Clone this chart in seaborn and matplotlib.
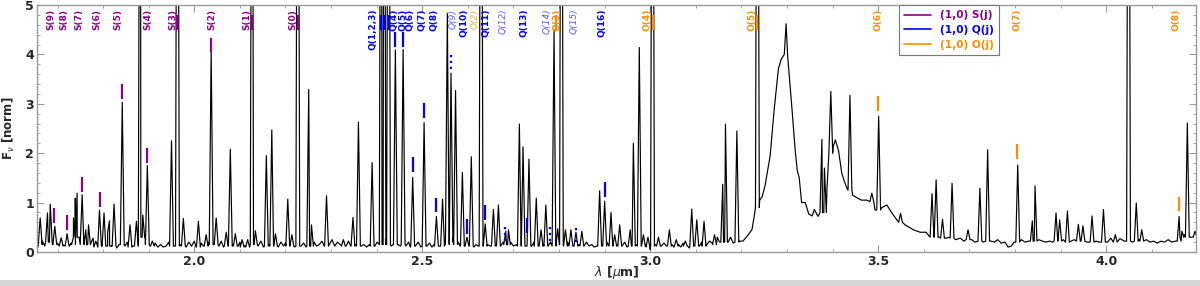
import numpy as np
import pandas as pd
import matplotlib
matplotlib.use('Agg')
import matplotlib.pyplot as plt
from matplotlib.lines import Line2D
from matplotlib.patches import Rectangle
from matplotlib.ticker import MultipleLocator, FormatStrFormatter
import seaborn as sns

# emission lines: centre [um], peak flux, local floor
# (15 = off the top of the plot)
line_wl = [1.662, 1.678, 1.684, 1.694, 1.708, 1.721, 1.735, 1.739, 1.743, 1.754,
           1.762, 1.768, 1.784, 1.792, 1.802, 1.810, 1.814, 1.824, 1.842, 1.859,
           1.873, 1.8815, 1.887, 1.897, 1.908, 1.950, 1.963, 1.976, 2.009, 2.026,
           2.037, 2.048, 2.070, 2.079, 2.090, 2.105, 2.117, 2.127, 2.134, 2.158,
           2.170, 2.178, 2.205, 2.214, 2.227, 2.251, 2.257, 2.290, 2.327, 2.348,
           2.360, 2.390, 2.410, 2.416, 2.426, 2.441, 2.458, 2.479, 2.504, 2.531,
           2.5445, 2.555, 2.563, 2.573, 2.588, 2.598, 2.6075, 2.629, 2.638, 2.656,
           2.667, 2.683, 2.689, 2.713, 2.721, 2.734, 2.750, 2.7605, 2.771, 2.789,
           2.797, 2.805, 2.814, 2.826, 2.837, 2.850, 2.889, 2.900, 2.914, 2.922,
           2.933, 2.956, 2.963, 2.976, 2.985, 2.995, 3.005, 3.018, 3.042, 3.057,
           3.077, 3.091, 3.102, 3.118, 3.141, 3.159, 3.165, 3.190, 3.235, 3.3765,
           3.382, 3.396, 3.438, 3.486, 3.501, 3.549, 3.618, 3.627, 3.641, 3.662,
           3.697, 3.723, 3.740, 3.806, 3.838, 3.844, 3.890, 3.898, 3.915, 3.939,
           3.949, 3.969, 3.994, 4.020, 4.049, 4.066, 4.078, 4.160, 4.166, 4.178,
           4.195]
line_peak = [0.69, 0.79, 0.97, 0.52, 0.29, 0.37, 0.69, 1.09, 1.19, 1.16,
             0.45, 0.55, 0.22, 0.85, 0.79, 0.40, 0.63, 0.97, 3.03, 0.55,
             0.62, 15, 0.75, 1.75, 0.22, 2.25, 15, 0.68, 0.62, 0.35,
             4.09, 0.69, 0.40, 2.08, 0.37, 0.25, 0.25, 15, 0.43, 1.95,
             2.47, 0.37, 1.07, 0.35, 15, 3.29, 0.55, 1.14, 0.25, 0.70,
             2.63, 1.81, 15, 15, 15, 4.09, 4.10, 1.51, 2.62, 0.72,
             1.07, 4.83, 3.62, 3.27, 1.61, 0.30, 1.93, 15, 0.57, 0.86,
             0.95, 0.42, 0.45, 2.59, 2.13, 1.88, 1.09, 0.45, 0.95, 4.50,
             0.47, 15, 0.45, 0.45, 0.40, 0.42, 1.24, 1.03, 0.80, 0.35,
             0.55, 0.45, 2.20, 4.14, 0.35, 0.30, 15, 0.30, 0.45, 0.25,
             0.22, 0.87, 0.65, 0.62, 0.35, 1.37, 2.59, 2.45, 15, 2.28,
             1.70, 3.25, 3.17, 1.19, 2.75, 0.78, 1.18, 1.46, 0.66, 1.39,
             0.45, 1.29, 2.07, 1.76, 0.63, 1.34, 0.79, 0.65, 0.83, 0.56,
             0.53, 0.73, 0.86, 0.35, 15, 0.99, 0.45, 0.72, 0.42, 2.61,
             0.42]
line_base = [0.15, 0.20, 0.20, 0.15, 0.12, 0.12, 0.15, 0.30, 0.30, 0.15,
             0.15, 0.15, 0.10, 0.12, 0.12, 0.12, 0.12, 0.12, 0.15, 0.10,
             0.12, 0.30, 0.30, 0.15, 0.12, 0.12, 0.12, 0.12, 0.10, 0.12,
             0.15, 0.15, 0.12, 0.12, 0.12, 0.10, 0.10, 0.15, 0.15, 0.12,
             0.12, 0.12, 0.12, 0.12, 0.12, 0.12, 0.12, 0.12, 0.12, 0.12,
             0.12, 0.12, 0.15, 0.15, 0.15, 0.15, 0.15, 0.12, 0.12, 0.12,
             0.12, 0.15, 0.20, 0.15, 0.12, 0.12, 0.12, 0.12, 0.12, 0.12,
             0.12, 0.15, 0.15, 0.12, 0.12, 0.12, 0.12, 0.12, 0.12, 0.12,
             0.15, 0.15, 0.12, 0.12, 0.12, 0.12, 0.12, 0.12, 0.12, 0.12,
             0.12, 0.12, 0.12, 0.12, 0.12, 0.10, 0.12, 0.12, 0.12, 0.12,
             0.12, 0.12, 0.12, 0.12, 0.15, 0.20, 0.20, 0.20, 0.90, 0.80,
             0.80, 2.00, 1.25, 1.02, 0.85, 0.60, 0.30, 0.30, 0.28, 0.28,
             0.25, 0.22, 0.22, 0.20, 0.22, 0.22, 0.22, 0.22, 0.20, 0.22,
             0.22, 0.20, 0.20, 0.20, 0.22, 0.22, 0.22, 0.22, 0.30, 0.30,
             0.30]

# continuum / noise floor and the broad 3.3 and 3.4 um bands
cont_wl = [1.657, 1.667, 1.672, 1.688, 1.700, 1.704, 1.714, 1.726, 1.730, 1.748,
           1.774, 1.778, 1.789, 1.797, 1.806, 1.819, 1.830, 1.835, 1.848, 1.853,
           1.865, 1.869, 1.892, 1.903, 1.914, 1.920, 1.926, 1.932, 1.938, 1.944,
           1.957, 1.970, 1.982, 1.988, 1.994, 2.000, 2.004, 2.015, 2.020, 2.031,
           2.043, 2.054, 2.059, 2.064, 2.075, 2.085, 2.096, 2.100, 2.111, 2.122,
           2.140, 2.146, 2.152, 2.164, 2.184, 2.190, 2.196, 2.200, 2.209, 2.220,
           2.234, 2.240, 2.245, 2.263, 2.268, 2.274, 2.280, 2.285, 2.296, 2.302,
           2.308, 2.314, 2.320, 2.333, 2.338, 2.343, 2.353, 2.366, 2.372, 2.378,
           2.384, 2.396, 2.401, 2.421, 2.432, 2.436, 2.447, 2.452, 2.464, 2.470,
           2.474, 2.485, 2.491, 2.497, 2.510, 2.516, 2.521, 2.526, 2.537, 2.549,
           2.568, 2.579, 2.583, 2.593, 2.603, 2.613, 2.618, 2.623, 2.634, 2.643,
           2.649, 2.661, 2.672, 2.677, 2.694, 2.700, 2.706, 2.717, 2.726, 2.740,
           2.745, 2.755, 2.766, 2.776, 2.781, 2.801, 2.809, 2.819, 2.831, 2.843,
           2.855, 2.860, 2.866, 2.872, 2.877, 2.883, 2.894, 2.905, 2.918, 2.927,
           2.938, 2.944, 2.949, 2.969, 2.981, 2.990, 3.000, 3.011, 3.024, 3.030,
           3.036, 3.048, 3.052, 3.062, 3.067, 3.072, 3.082, 3.086, 3.096, 3.108,
           3.113, 3.124, 3.130, 3.136, 3.147, 3.152, 3.171, 3.176, 3.182, 3.196,
           3.203, 3.208, 3.215, 3.223, 3.228, 3.240, 3.2456, 3.252, 3.263, 3.272,
           3.281, 3.287, 3.294, 3.298, 3.3015, 3.310, 3.318, 3.3224, 3.3268, 3.332,
           3.340, 3.3476, 3.355, 3.360, 3.368, 3.3875, 3.401, 3.406, 3.413, 3.420,
           3.425, 3.431, 3.444, 3.453, 3.463, 3.475, 3.493, 3.508, 3.519, 3.530,
           3.541, 3.559, 3.577, 3.592, 3.605, 3.612, 3.633, 3.650, 3.655, 3.670,
           3.680, 3.688, 3.705, 3.712, 3.730, 3.748, 3.755, 3.762, 3.770, 3.778,
           3.785, 3.792, 3.798, 3.814, 3.822, 3.830, 3.852, 3.860, 3.868, 3.876,
           3.882, 3.906, 3.923, 3.930, 3.958, 3.978, 3.985, 4.003, 4.010, 4.030,
           4.040, 4.058, 4.072, 4.088, 4.096, 4.104, 4.112, 4.120, 4.128, 4.136,
           4.144, 4.152, 4.171, 4.186, 4.190, 4.198]
cont_flux = [0.10, 0.22, 0.12, 0.20, 0.18, 0.10, 0.14, 0.12, 0.18, 0.25,
             0.20, 0.28, 0.12, 0.15, 0.10, 0.13, 0.08, 0.15, 0.12, 0.20,
             0.12, 0.15, 0.35, 0.12, 0.18, 0.10, 0.15, 0.10, 0.12, 0.20,
             0.12, 0.15, 0.10, 0.20, 0.12, 0.22, 0.10, 0.18, 0.12, 0.20,
             0.15, 0.12, 0.22, 0.10, 0.13, 0.15, 0.12, 0.20, 0.13, 0.12,
             0.12, 0.22, 0.10, 0.15, 0.10, 0.20, 0.12, 0.18, 0.15, 0.10,
             0.12, 0.18, 0.10, 0.20, 0.12, 0.15, 0.22, 0.12, 0.15, 0.25,
             0.12, 0.20, 0.15, 0.12, 0.22, 0.12, 0.15, 0.12, 0.15, 0.10,
             0.15, 0.12, 0.20, 0.25, 0.12, 0.15, 0.15, 0.12, 0.12, 0.20,
             0.10, 0.12, 0.20, 0.10, 0.12, 0.18, 0.10, 0.15, 0.12, 0.20,
             0.30, 0.20, 0.12, 0.15, 0.12, 0.10, 0.15, 0.12, 0.15, 0.15,
             0.12, 0.15, 0.12, 0.20, 0.20, 0.12, 0.15, 0.15, 0.12, 0.12,
             0.20, 0.12, 0.15, 0.12, 0.20, 0.20, 0.15, 0.20, 0.12, 0.15,
             0.12, 0.20, 0.12, 0.15, 0.10, 0.12, 0.15, 0.20, 0.12, 0.15,
             0.12, 0.20, 0.10, 0.15, 0.12, 0.15, 0.05, 0.15, 0.12, 0.18,
             0.12, 0.15, 0.10, 0.15, 0.10, 0.18, 0.12, 0.08, 0.12, 0.12,
             0.20, 0.15, 0.22, 0.18, 0.30, 0.20, 0.20, 0.30, 0.18, 0.22,
             0.22, 0.27, 0.35, 0.45, 0.72, 1.05, 1.12, 1.35, 1.95, 2.90,
             3.70, 3.90, 4.00, 4.62, 3.95, 3.00, 2.05, 1.65, 1.50, 1.00,
             1.00, 0.77, 0.73, 0.86, 0.72, 1.25, 2.13, 2.27, 2.05, 1.60,
             1.45, 1.30, 1.15, 1.10, 1.05, 1.05, 0.85, 0.90, 0.95, 0.79,
             0.65, 0.55, 0.45, 0.40, 0.40, 0.32, 0.30, 0.28, 0.30, 0.25,
             0.28, 0.22, 0.25, 0.20, 0.20, 0.22, 0.20, 0.25, 0.18, 0.20,
             0.10, 0.12, 0.20, 0.25, 0.20, 0.22, 0.25, 0.22, 0.20, 0.22,
             0.20, 0.25, 0.22, 0.25, 0.20, 0.22, 0.20, 0.20, 0.28, 0.27,
             0.22, 0.20, 0.25, 0.25, 0.20, 0.22, 0.18, 0.22, 0.20, 0.25,
             0.20, 0.22, 0.35, 0.30, 0.30, 0.35]

# H2 line identifications: label position, marker position, marker bottom
s_labels = ['S(9)', 'S(8)', 'S(7)', 'S(6)', 'S(5)', 'S(4)', 'S(3)', 'S(2)', 'S(1)', 'S(0)']
s_label_wl = [1.686, 1.713, 1.747, 1.787, 1.833, 1.8985, 1.953, 2.0395, 2.116, 2.216]
s_mark_wl = [1.693, 1.721, 1.754, 1.794, 1.841, 1.897, 1.962, 2.037, 2.127, 2.2265]
s_mark_lo = [0.59, 0.45, 1.22, 0.92, 3.10, 1.80, 4.50, 4.04, 4.50, 4.50]

q_labels = ['Q(1,2,3)', 'Q(4)', 'Q(5)', 'Q(6)', 'Q(7)', 'Q(8)', 'Q(9)', 'Q(10)',
            'Q(11)', 'Q(12)', 'Q(13)', 'Q(14)', 'Q(15)', 'Q(16)']
q_label_wl = [2.392, 2.439, 2.458, 2.474, 2.499, 2.526, 2.567, 2.591,
              2.640, 2.678, 2.724, 2.7735, 2.832, 2.894]
q_label_tentative = [False, False, False, False, False, False, True, False,
                     False, True, False, True, True, False]
q_mark_wl = [2.410, 2.416, 2.426, 2.441, 2.458, 2.479, 2.504, 2.531, 2.5636,
             2.598, 2.638, 2.682, 2.730, 2.781, 2.838, 2.900]
q_mark_lo = [4.50, 4.50, 4.50, 4.15, 4.15, 1.62, 2.71, 0.80, 3.70,
             0.37, 0.65, 0.23, 0.39, 0.23, 0.21, 1.12]
q_mark_tentative = [False, False, False, False, False, False, False, False, True,
                    False, False, True, False, True, True, False]

o_labels = ['O(2)', 'O(3)', 'O(4)', 'O(5)', 'O(6)', 'O(7)', 'O(8)']
o_label_wl = [2.617, 2.795, 2.993, 3.224, 3.4985, 3.8055, 4.153]
o_label_tentative = [True, False, False, False, False, False, False]
o_mark_wl = [2.794, 3.005, 3.235, 3.499, 3.8055, 4.160]
o_mark_lo = [4.50, 4.50, 4.50, 2.86, 1.88, 0.82]

s_col = '#8B008B'
q_col = '#0000FF'
q_col_t = '#5c5cff'
o_col = '#FF8C00'
o_col_t = '#ffa940'

# build the spectrum polyline: each line is a narrow spike on its local floor
hw = 0.0042
lw_arr = np.array(line_wl)
keep = [np.min(np.abs(lw_arr - w)) > hw for w in cont_wl]
xs = [w for w, k in zip(cont_wl, keep) if k]
ys = [f for f, k in zip(cont_flux, keep) if k]
for w, p, b in zip(line_wl, line_peak, line_base):
    xs += [w - hw, w, w + hw]
    ys += [b, p, b]
order = np.argsort(xs, kind='stable')
spec = pd.DataFrame({'wl': np.array(xs)[order], 'flux': np.array(ys)[order]})

sns.set_style('ticks')
plt.rcParams['font.family'] = ['DejaVu Sans']

fig = plt.figure(figsize=(12, 2.86), dpi=100)
ax = fig.add_axes([37 / 1200, 34 / 286, 1159 / 1200, 247 / 286])

sns.lineplot(data=spec, x='wl', y='flux', ax=ax, color='black', linewidth=0.85,
             sort=False, estimator=None)

bar_len = 0.3
ax.vlines(s_mark_wl, s_mark_lo, np.array(s_mark_lo) + bar_len, color=s_col, lw=1.6)
for w, lo, t in zip(q_mark_wl, q_mark_lo, q_mark_tentative):
    ax.vlines(w, lo, lo + bar_len, color=q_col, lw=1.6, linestyles=':' if t else '-')
ax.vlines(o_mark_wl, o_mark_lo, np.array(o_mark_lo) + bar_len, color=o_col, lw=1.6)

tr = ax.get_xaxis_transform()


def put_label(x, txt, col, col_t, tentative):
    ax.text(x, 0.985, txt, transform=tr, rotation=90, ha='center', va='top',
            fontsize=6.5, color=col_t if tentative else col,
            fontweight='normal' if tentative else 'bold',
            fontstyle='italic' if tentative else 'normal')


for x, t in zip(s_label_wl, s_labels):
    put_label(x, t, s_col, s_col, False)
for x, t, tt in zip(q_label_wl, q_labels, q_label_tentative):
    put_label(x, t, q_col, q_col_t, tt)
for x, t, tt in zip(o_label_wl, o_labels, o_label_tentative):
    put_label(x, t, o_col, o_col_t, tt)

ax.set_xlim(1.655, 4.197)
ax.set_ylim(0, 5)
ax.xaxis.set_major_locator(MultipleLocator(0.5))
ax.xaxis.set_minor_locator(MultipleLocator(0.1))
ax.xaxis.set_major_formatter(FormatStrFormatter('%.1f'))
ax.yaxis.set_major_locator(MultipleLocator(1))
ax.yaxis.set_minor_locator(MultipleLocator(0.2))
ax.tick_params(which='both', direction='in', top=True, right=True, color='#9a9a9a')
ax.tick_params(which='major', length=5, width=0.8, labelsize=9, pad=2)
ax.tick_params(which='minor', length=2.5, width=0.6)
for lab in ax.get_xticklabels() + ax.get_yticklabels():
    lab.set_fontweight('bold')
for sp in ax.spines.values():
    sp.set_color('#9a9a9a')
    sp.set_linewidth(1.0)

ax.set_xlabel(r'$\lambda$ [$\mu$m]', fontsize=9, fontweight='bold', labelpad=-3)
ax.set_ylabel(r'F$_\nu$ [norm]', fontsize=8.5, fontweight='bold', labelpad=6)

handles = [Line2D([], [], color=s_col, lw=1.2),
           Line2D([], [], color=q_col, lw=1.2),
           Line2D([], [], color=o_col, lw=1.2)]
leg = ax.legend(handles, ['(1,0) S(j)', '(1,0) Q(j)', '(1,0) O(j)'],
                loc='upper right', bbox_to_anchor=(0.830, 1.0), borderaxespad=0,
                fancybox=False, framealpha=1, edgecolor='#777777',
                prop={'size': 7.6, 'weight': 'bold'}, handlelength=2.6,
                labelspacing=0.45, borderpad=0.5,
                labelcolor=[s_col, q_col, o_col])
leg.get_frame().set_linewidth(0.8)

fig.patches.append(Rectangle((0, 0), 1, 6 / 286, transform=fig.transFigure,
                             facecolor='#d4d4d4', edgecolor='none'))

fig.savefig('out.png', dpi=100)
